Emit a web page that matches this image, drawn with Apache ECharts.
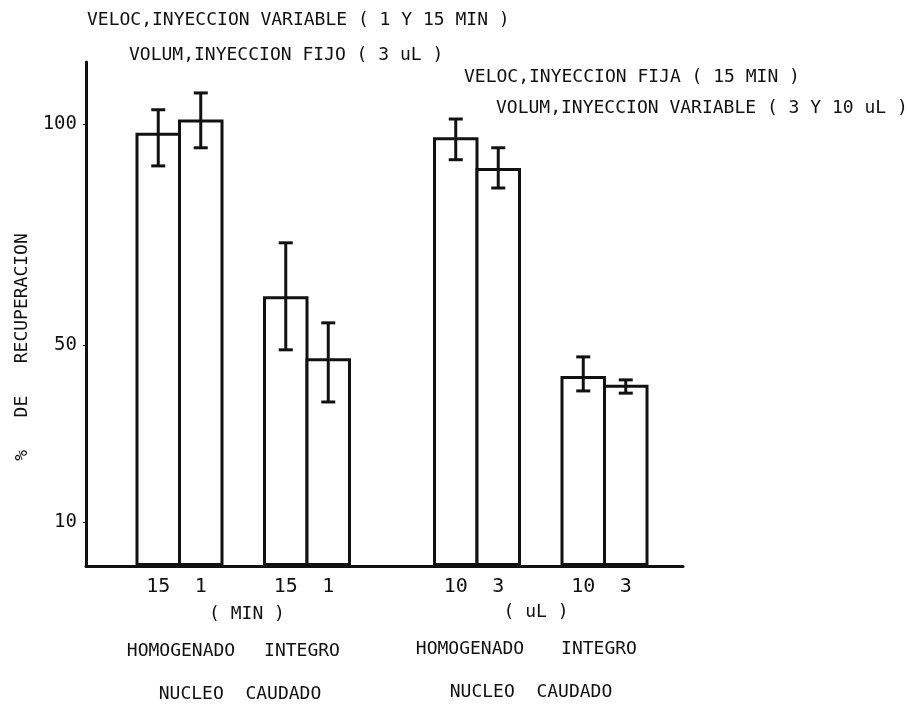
<!DOCTYPE html>
<html>
<head>
<meta charset="utf-8">
<script src="https://cdn.jsdelivr.net/npm/echarts@6/dist/echarts.min.js"></script>
<style>
  html, body { margin: 0; padding: 0; background: #fff; }
  #chart { width: 909px; height: 709px; }
</style>
</head>
<body>
<div id="chart"></div>
<script>
// Category slots along the bar axis; empty strings are spacing slots between groups.
const categories = ['15', '1', '', '15', '1', '', '', '10', '3', '', '10', '3'];
// Mean % recovery per slot (null = empty spacing slot).
const recovery = [98, 101, null, 61, 47, null, null, 97, 90, null, 43, 41];
// Lower and upper ends of the error bars.
const errLow  = [90.5, 94.6, null, 48.9, 37.1, null, null, 91.9, 85.5, null, 39.6, 39.1];
const errHigh = [103.2, 107.0, null, 73.1, 55.0, null, null, 101.1, 94.6, null, 47.3, 42.1];
// Y tick labels that are printed.
const yTicks = [10, 50, 100];

const FONT = '"DejaVu Sans Mono", "Liberation Mono", monospace';
const INK = '#111';
const BORDER = 3;

const chart = echarts.init(document.getElementById('chart'), null, { renderer: 'canvas' });

function txt(text, x, y, align, size) {
  return {
    type: 'text', x: x, y: y, silent: true,
    style: {
      text: text, fill: INK,
      font: (size || 18) + 'px ' + FONT,
      textAlign: align || 'left', textVerticalAlign: 'middle'
    }
  };
}

const barData = recovery.map(v => (v == null ? '-' : v));
const errData = [];
recovery.forEach((v, i) => {
  if (v != null) errData.push([i, errLow[i], errHigh[i]]);
});

const Y_MAX = 114;
const BAR_GRID_WIDTH = 510;
// bar outlines are drawn inside the rect, so widen by one border so neighbours share an edge
const barWidth = BAR_GRID_WIDTH / categories.length + BORDER;

chart.setOption({
  backgroundColor: '#fff',
  animation: false,
  grid: [
    // frame grid: carries the visible axis lines and y labels
    { left: 86, right: 909 - 683, top: 62, bottom: 143 },
    // bar grid: same vertical scale, narrower horizontal band
    { left: 137, width: BAR_GRID_WIDTH, top: 62, bottom: 143 }
  ],
  xAxis: [
    {
      gridIndex: 0, type: 'value', min: 0, max: 1,
      axisLine: { show: true, onZero: false, lineStyle: { color: INK, width: 3 } },
      axisTick: { show: false }, axisLabel: { show: false }, splitLine: { show: false }
    },
    {
      gridIndex: 1, type: 'category', data: categories,
      axisLine: { show: false }, axisTick: { show: false },
      axisLabel: { interval: 0, margin: 11, color: INK, fontFamily: FONT, fontSize: 20 },
      splitLine: { show: false }
    }
  ],
  yAxis: [
    {
      gridIndex: 0, type: 'value', min: 0, max: Y_MAX,
      axisLine: { show: true, lineStyle: { color: INK, width: 3 } },
      axisTick: { show: true, length: 3, customValues: yTicks, lineStyle: { color: INK, width: 1 } },
      axisLabel: { customValues: yTicks, margin: 9, color: INK, fontFamily: FONT, fontSize: 19 },
      splitLine: { show: false }
    },
    {
      gridIndex: 1, type: 'value', min: 0, max: Y_MAX, show: false,
      splitLine: { show: false }
    }
  ],
  series: [
    {
      type: 'bar', xAxisIndex: 1, yAxisIndex: 1,
      data: barData,
      barWidth: barWidth,
      itemStyle: { color: '#fff', borderColor: INK, borderWidth: BORDER },
      z: 2
    },
    {
      type: 'custom', xAxisIndex: 1, yAxisIndex: 1,
      data: errData,
      z: 3,
      renderItem: function (params, api) {
        const x = api.value(0);
        const lo = api.coord([x, api.value(1)]);
        const hi = api.coord([x, api.value(2)]);
        const cap = 7;
        const ls = { stroke: INK, lineWidth: 3 };
        return {
          type: 'group',
          children: [
            { type: 'line', shape: { x1: hi[0], y1: hi[1], x2: lo[0], y2: lo[1] }, style: ls },
            { type: 'line', shape: { x1: hi[0] - cap, y1: hi[1], x2: hi[0] + cap, y2: hi[1] }, style: ls },
            { type: 'line', shape: { x1: lo[0] - cap, y1: lo[1], x2: lo[0] + cap, y2: lo[1] }, style: ls }
          ]
        };
      }
    }
  ],
  graphic: [
    txt('VELOC,INYECCION VARIABLE ( 1 Y 15 MIN )', 87, 20),
    txt('VOLUM,INYECCION FIJO ( 3 uL )', 129, 55),
    txt('VELOC,INYECCION FIJA ( 15 MIN )', 464, 77),
    txt('VOLUM,INYECCION VARIABLE ( 3 Y 10 uL )', 496, 108),
    txt('( MIN )', 247, 614, 'center'),
    txt('( uL )', 536, 612, 'center'),
    txt('HOMOGENADO', 181, 651, 'center'),
    txt('INTEGRO', 302, 651, 'center'),
    txt('HOMOGENADO', 470, 649, 'center'),
    txt('INTEGRO', 599, 649, 'center'),
    txt('NUCLEO  CAUDADO', 240, 694, 'center'),
    txt('NUCLEO  CAUDADO', 531, 692, 'center'),
    {
      type: 'text', x: 22, y: 347, rotation: Math.PI / 2, silent: true,
      style: {
        text: '%   DE   RECUPERACION', fill: INK,
        font: '18px ' + FONT, textAlign: 'center', textVerticalAlign: 'middle'
      }
    }
  ]
});
</script>
</body>
</html>
